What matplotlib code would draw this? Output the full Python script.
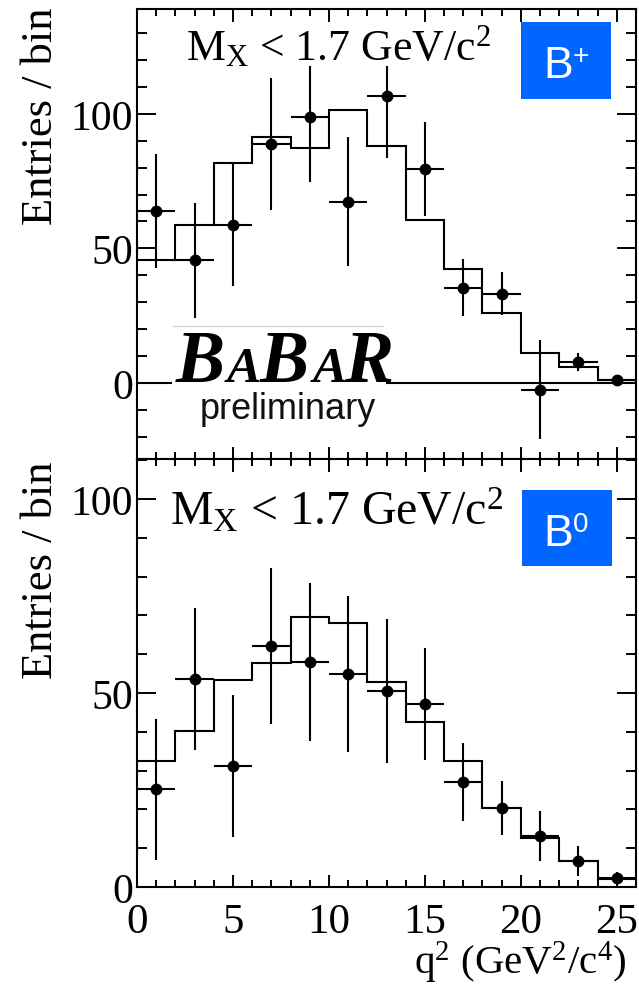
import numpy as np
import matplotlib
matplotlib.use("Agg")
import matplotlib.pyplot as plt
from matplotlib.patches import Rectangle
from matplotlib.ticker import MultipleLocator

plt.rcParams["font.family"] = ["Liberation Serif", "DejaVu Serif"]
plt.rcParams["mathtext.fontset"] = "custom"
plt.rcParams["mathtext.rm"] = "Liberation Serif"
plt.rcParams["mathtext.it"] = "Liberation Serif:italic"

# q^2 binning (GeV^2/c^4)
edges = [0, 2, 4, 6, 8, 10, 12, 14, 16, 18, 20, 22, 24, 26]
centers = [1, 3, 5, 7, 9, 11, 13, 15, 17, 19, 21, 23, 25]

# B+ : measured yields and fitted expectation
bplus_data = [63.9, 45.5, 58.7, 88.8, 98.9, 67.4, 106.8, 79.5, 35.3, 33.2, -2.5, 7.7, 1.2]
bplus_err = [21.3, 21.5, 22.7, 24.7, 24.4, 24.1, 23.2, 17.5, 10.6, 8.0, 18.3, 3.3, 0.6]
bplus_fit = [45.5, 58.7, 81.7, 91.4, 87.2, 101.6, 87.9, 60.4, 42.5, 26.0, 11.1, 5.9, 1.2]

# B0 : measured yields and fitted expectation
bzero_data = [25.2, 53.5, 31.2, 62.1, 58.0, 54.9, 50.5, 47.2, 27.0, 20.4, 13.1, 6.7, 2.4]
bzero_err = [18.2, 18.3, 18.4, 20.1, 20.4, 20.2, 18.5, 14.4, 10.0, 6.9, 6.4, 3.9, 1.5]
bzero_fit = [32.6, 40.2, 53.4, 57.7, 69.7, 68.1, 52.8, 42.5, 32.6, 20.3, 12.5, 6.7, 2.0]

half_width = [1.0] * len(centers)

W, H = 639, 987
fig = plt.figure(figsize=(W / 100, H / 100), dpi=100)


def fx(px):
    return px / W


def fy(py):
    return 1 - py / H


ax_top = fig.add_axes([fx(137), fy(460), fx(636) - fx(137), fy(10) - fy(460)])
ax_bot = fig.add_axes([fx(137), fy(888), fx(636) - fx(137), fy(460) - fy(888)])


def style_axes(ax, ylim):
    ax.set_xlim(0, 26)
    ax.set_ylim(*ylim)
    ax.xaxis.set_major_locator(MultipleLocator(5))
    ax.xaxis.set_minor_locator(MultipleLocator(1))
    ax.yaxis.set_major_locator(MultipleLocator(50))
    ax.yaxis.set_minor_locator(MultipleLocator(10))
    ax.tick_params(which="both", direction="in", top=True, right=True,
                   width=1.4, colors="black")
    ax.tick_params(axis="x", which="major", length=9, pad=11, labelsize=31)
    ax.tick_params(axis="x", which="minor", length=4.8)
    ax.tick_params(axis="y", which="major", length=14, pad=3, labelsize=30)
    ax.tick_params(axis="y", which="minor", length=7)
    for s in ax.spines.values():
        s.set_linewidth(1.5)


def draw_panel(ax, data, err, fit):
    ax.stairs(fit, edges, baseline=None, color="black", lw=1.5, zorder=2)
    ax.errorbar(centers, data, yerr=err, xerr=half_width, fmt="o",
                color="black", ms=7.5, elinewidth=1.5, capsize=0, zorder=3)


style_axes(ax_top, (-28.3, 139.0))
style_axes(ax_bot, (0, 110.3))
draw_panel(ax_top, bplus_data, bplus_err, bplus_fit)
draw_panel(ax_bot, bzero_data, bzero_err, bzero_fit)
ax_top.axhline(0, color="black", lw=1.5, zorder=1)
ax_top.tick_params(axis="x", labelbottom=False)

# white backing behind the selection label in the upper panel
fig.patches.append(Rectangle((fx(180), fy(67)), fx(500) - fx(180), fy(24) - fy(67),
                             transform=fig.transFigure, facecolor="white",
                             edgecolor="none", zorder=5))
fig.text(fx(186), fy(60), r"M$_{\mathrm{X}}$ < 1.7 GeV/c$^{2}$", fontsize=31.5,
         ha="left", va="baseline", zorder=6)
fig.text(fx(170), fy(525), r"M$_{\mathrm{X}}$ < 1.7 GeV/c$^{2}$", fontsize=34.5,
         ha="left", va="baseline", zorder=6)

# axis titles
for ytop in (8, 462):
    fig.text(fx(41), fy(ytop), "Entries / bin", rotation=90, fontsize=32,
             ha="center", va="top")
fig.text(fx(626), fy(974), r"q$^{2}$ (GeV$^{2}$/c$^{4}$)", fontsize=29.5,
         ha="right", va="baseline")

# experiment logo
fig.patches.append(Rectangle((fx(172), fy(432)), fx(386) - fx(172), fy(322) - fy(432),
                             transform=fig.transFigure, facecolor="white",
                             edgecolor="none", zorder=5))
fig.lines.append(plt.Line2D([fx(173), fx(383)], [fy(327), fy(327)],
                            transform=fig.transFigure, color="#d8d8d8", lw=1, zorder=6))
logo = [("B", 176, 53), ("A", 227, 37), ("B", 260, 53), ("A", 313, 37), ("R", 344, 53)]
for ch, x0, size in logo:
    fig.text(fx(x0), fy(382), ch, fontsize=size, fontweight="bold", style="italic",
             family="Liberation Serif", ha="left", va="baseline", zorder=7)
fig.text(fx(200), fy(419), "preliminary", fontsize=26, family="Liberation Sans",
         ha="left", va="baseline", color="#111111", zorder=7)

# charge badges
blue = "#0066ff"
for (x0, y0, x1, y1), sup, bbase in [((521, 23, 611, 100), "+", 78),
                                      ((522, 491, 612, 567), "0", 546)]:
    fig.patches.append(Rectangle((fx(x0), fy(y1)), fx(x1) - fx(x0), fy(y0) - fy(y1),
                                 transform=fig.transFigure, facecolor=blue,
                                 edgecolor="none", zorder=5))
    fig.text(fx(543), fy(bbase), "B", fontsize=32, family="Liberation Sans",
             color="white", ha="left", va="baseline", zorder=6)
    fig.text(fx(573), fy(bbase - 14), sup, fontsize=20, family="Liberation Sans",
             color="white", ha="left", va="baseline", zorder=6)

fig.savefig("out.png", dpi=100)
